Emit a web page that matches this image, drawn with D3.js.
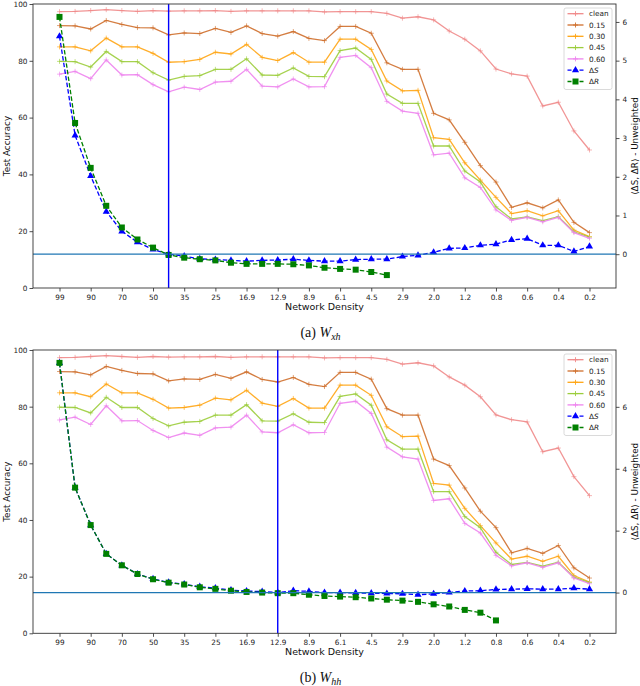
<!DOCTYPE html>
<html><head><meta charset="utf-8">
<script src="https://cdn.jsdelivr.net/npm/d3@7"></script>
<style>body{margin:0;background:#fff}svg{display:block}</style>
</head><body><svg id="c" width="640" height="686"></svg>
<script>
// ---------- data ----------
const densityLabels = ["99","90","70","50","35","25","16.9","12.9","8.9","6.1","4.5","2.9","2.0","1.2","0.8","0.6","0.4","0.2"];
const seriesNames = ["clean","0.15","0.30","0.45","0.60"];
const accClean = [97.3,97.4,97.7,98.0,97.7,97.4,97.7,97.5,97.6,97.6,97.7,97.4,97.6,97.6,97.6,97.6,97.6,97.2,97.3,97.3,97.3,96.7,95.0,95.5,94.4,90.5,87.6,83.5,77.1,75.4,74.6,64.1,65.4,55.3,48.6];
const acc015 = [92.4,92.3,91.2,94.2,92.8,91.7,91.6,89.1,89.8,89.6,91.4,90.0,92.3,89.6,88.7,90.3,87.9,87.1,92.1,92.1,89.7,79.3,77.0,77.0,61.5,59.2,51.3,43.1,37.3,28.4,30.0,28.2,31.0,23.1,19.5];
const acc030 = [84.9,84.9,83.5,88.0,84.9,84.9,82.6,79.5,79.7,80.5,83.0,82.4,85.8,81.2,80.1,82.9,79.5,79.5,87.6,87.6,84.0,72.9,69.4,69.6,52.9,52.3,44.1,38.0,31.9,26.2,27.2,25.4,27.2,20.4,18.1];
const acc045 = [79.8,79.7,77.8,83.3,79.7,79.7,75.8,73.2,74.5,74.8,77.0,77.0,80.7,75.0,74.9,77.5,74.5,74.4,83.6,84.5,80.5,68.3,65.0,65.0,50.0,50.0,41.2,37.3,28.6,24.3,25.0,23.7,25.1,19.8,17.9];
const acc060 = [75.3,76.3,73.7,80.3,75.0,75.1,71.6,69.1,70.7,69.9,72.5,72.8,77.0,71.1,70.8,73.6,70.8,70.9,81.2,81.9,77.6,65.7,62.3,61.5,46.9,47.5,38.8,35.4,27.5,23.8,24.9,23.3,24.9,19.5,17.5];
// (a) W_xh
const dS_xh = [5.63,3.07,2.02,1.10,0.59,0.31,0.12,0.00,-0.05,-0.12,-0.14,-0.16,-0.18,-0.16,-0.15,-0.13,-0.16,-0.18,-0.18,-0.14,-0.13,-0.13,-0.06,-0.03,0.05,0.15,0.16,0.23,0.26,0.37,0.40,0.23,0.23,0.07,0.20];
const dR_xh = [6.13,3.39,2.23,1.25,0.69,0.38,0.17,-0.02,-0.09,-0.13,-0.16,-0.22,-0.25,-0.25,-0.25,-0.26,-0.29,-0.35,-0.38,-0.40,-0.46,-0.54];
// (b) W_hh
const dS_hh = [7.42,3.39,2.18,1.25,0.88,0.60,0.44,0.33,0.27,0.19,0.14,0.08,0.05,0.03,0.00,0.06,0.04,0.00,0.00,-0.01,-0.02,-0.03,-0.04,-0.07,-0.04,0.00,0.05,0.06,0.10,0.11,0.12,0.11,0.11,0.14,0.11];
const dR_hh = [7.42,3.39,2.18,1.25,0.88,0.60,0.43,0.32,0.26,0.17,0.12,0.06,0.02,0.00,-0.02,-0.02,-0.07,-0.11,-0.13,-0.15,-0.19,-0.23,-0.26,-0.30,-0.38,-0.45,-0.56,-0.65,-0.90];
const leftTicks = [0,20,40,60,80,100];
const rightTicks_xh = [0,1,2,3,4,5,6];
const rightTicks_hh = [0,2,4,6];
const pruneIndex_xh = 7, pruneIndex_hh = 14;

// ---------- styles ----------
const accSeries = [accClean, acc015, acc030, acc045, acc060];
const accColors = ["#f08a8a","#cf6f2c","#ffa514","#9ccd3c","#ee84ee"];
const FONT = "DejaVu Sans, sans-serif";
const svg = d3.select("#c");

function panel(cfg){
  const L=33, R=616, T=cfg.top, B=cfg.bottom;
  const n = accClean.length;
  const pad = 0.05*(n-1);
  const x = d3.scaleLinear().domain([-pad, n-1+pad]).range([L,R]);
  const yL = d3.scaleLinear().domain([0,100]).range([B,T]);
  const all = cfg.dS.concat(cfg.dR);
  const mn = d3.min(all), mx = d3.max(all), m = 0.05*(mx-mn);
  const yR = d3.scaleLinear().domain([mn-m, mx+m]).range([B,T]);
  const g = svg.append("g");

  // accuracy lines
  accSeries.forEach((s,k)=>{
    const line = d3.line().x((d,i)=>x(i)).y(d=>yL(d));
    g.append("path").datum(s).attr("d",line).attr("fill","none")
      .attr("stroke",accColors[k]).attr("stroke-width",1.3).attr("stroke-opacity",0.9);
    s.forEach((d,i)=>{
      const cx=x(i), cy=yL(d);
      g.append("path").attr("d",`M${cx-2.5},${cy}H${cx+2.5}M${cx},${cy-2.5}V${cy+2.5}`)
        .attr("stroke",accColors[k]).attr("stroke-width",0.9).attr("stroke-opacity",0.7);
    });
  });

  // delta lines
  const dline = d3.line().x((d,i)=>x(i)).y(d=>yR(d));
  g.append("path").datum(cfg.dS).attr("d",dline).attr("fill","none")
    .attr("stroke","#0000ff").attr("stroke-width",1.3).attr("stroke-dasharray","4.5,2.2");
  cfg.dS.forEach((d,i)=>{
    const cx=x(i), cy=yR(d);
    g.append("path").attr("d",d3.symbol(d3.symbolTriangle,22)()).attr("transform",`translate(${cx},${cy})`).attr("fill","#0000ff");
  });
  g.append("path").datum(cfg.dR).attr("d",dline).attr("fill","none")
    .attr("stroke","#008000").attr("stroke-width",1.3).attr("stroke-dasharray","4.5,2.2");
  cfg.dR.forEach((d,i)=>{
    const cx=x(i), cy=yR(d);
    g.append("rect").attr("x",cx-3).attr("y",cy-3).attr("width",6).attr("height",6).attr("fill","#008000");
  });

  // reference lines
  g.append("line").attr("x1",L).attr("x2",R).attr("y1",yR(0)).attr("y2",yR(0))
    .attr("stroke","#1f77b4").attr("stroke-width",1.2);
  g.append("line").attr("x1",x(cfg.vline)).attr("x2",x(cfg.vline)).attr("y1",T).attr("y2",B)
    .attr("stroke","#0000ff").attr("stroke-width",1.4);

  // axes
  const ax = g.append("g").attr("transform",`translate(${L},0)`)
    .call(d3.axisLeft(yL).tickValues(leftTicks).tickSize(3.5).tickPadding(2));
  const axR = g.append("g").attr("transform",`translate(${R},0)`)
    .call(d3.axisRight(yR).tickValues(cfg.rTicks).tickSize(3.5).tickPadding(3));
  const evenIdx = densityLabels.map((d,i)=>2*i);
  const axB = g.append("g").attr("transform",`translate(0,${B})`)
    .call(d3.axisBottom(x).tickValues(evenIdx).tickFormat(i=>densityLabels[i/2]).tickSize(3.5).tickPadding(3));
  [ax,axR,axB].forEach(a=>{
    a.select(".domain").remove();
    a.selectAll("line").attr("stroke","#222").attr("stroke-width",0.8);
    a.selectAll("text").attr("font-family",FONT).attr("font-size",7.3).attr("fill","#222");
  });
  g.append("rect").attr("x",L).attr("y",T).attr("width",R-L).attr("height",B-T)
    .attr("fill","none").attr("stroke","#333").attr("stroke-width",0.9);

  // axis labels
  g.append("text").attr("transform",`translate(10,${(T+B)/2}) rotate(-90)`)
    .attr("text-anchor","middle").attr("font-family",FONT).attr("font-size",8.8).attr("fill","#111").text("Test Accuracy");
  g.append("text").attr("transform",`translate(637.5,${(T+B)/2}) rotate(-90)`)
    .attr("text-anchor","middle").attr("font-family",FONT).attr("font-size",8.8).attr("fill","#111").text("⟨ΔS, ΔR⟩ - Unweighted");
  g.append("text").attr("x",(L+R)/2).attr("y",B+22).attr("text-anchor","middle")
    .attr("font-family",FONT).attr("font-size",9.5).attr("fill","#111").text("Network Density");

  // caption
  const cap = g.append("text").attr("x",(L+R)/2-4).attr("y",B+49).attr("text-anchor","middle")
    .attr("font-family","Liberation Serif, Times New Roman, serif").attr("font-size",14).attr("fill","#111");
  cap.append("tspan").text(cfg.caption+" ");
  cap.append("tspan").attr("font-style","italic").text("W");
  cap.append("tspan").attr("font-style","italic").attr("font-size",10).attr("dy",3).text(cfg.sub);

  // legend
  const lx=564, ly=T+4, lw=48, lh=81.5;
  const lg = g.append("g");
  lg.append("rect").attr("x",lx).attr("y",ly).attr("width",lw).attr("height",lh).attr("rx",2)
    .attr("fill","#fff").attr("fill-opacity",0.85).attr("stroke","#d0d0d0").attr("stroke-width",0.8);
  const entries = seriesNames.map((nm,k)=>({nm,color:accColors[k],type:"acc"}))
    .concat([{nm:"S",color:"#0000ff",type:"S"},{nm:"R",color:"#008000",type:"R"}]);
  entries.forEach((e,k)=>{
    const yy = ly+5.7+k*11.3, x1=lx+3.5, x2=lx+19.5, xm=(x1+x2)/2;
    if(e.type==="acc"){
      lg.append("line").attr("x1",x1).attr("x2",x2).attr("y1",yy).attr("y2",yy).attr("stroke",e.color).attr("stroke-width",1.3);
      lg.append("path").attr("d",`M${xm-2.5},${yy}H${xm+2.5}M${xm},${yy-2.5}V${yy+2.5}`).attr("stroke",e.color).attr("stroke-width",0.9);
    } else {
      lg.append("line").attr("x1",x1).attr("x2",x2).attr("y1",yy).attr("y2",yy).attr("stroke",e.color)
        .attr("stroke-width",1.3).attr("stroke-dasharray","4,2");
      if(e.type==="S") lg.append("path").attr("d",d3.symbol(d3.symbolTriangle,22)()).attr("transform",`translate(${xm},${yy})`).attr("fill",e.color);
      else lg.append("rect").attr("x",xm-3).attr("y",yy-3).attr("width",6).attr("height",6).attr("fill",e.color);
    }
    const t = lg.append("text").attr("x",lx+25).attr("y",yy+2.6).attr("font-family",FONT).attr("font-size",7.3).attr("fill","#222");
    if(e.type==="acc") t.text(e.nm);
    else { t.append("tspan").text("Δ"); t.append("tspan").attr("font-style","italic").text(e.nm); }
  });
}

panel({top:4, bottom:288, vline:pruneIndex_xh, dS:dS_xh, dR:dR_xh, rTicks:rightTicks_xh, caption:"(a)", sub:"xh"});
panel({top:350, bottom:633.3, vline:pruneIndex_hh, dS:dS_hh, dR:dR_hh, rTicks:rightTicks_hh, caption:"(b)", sub:"hh"});
</script></body></html>
